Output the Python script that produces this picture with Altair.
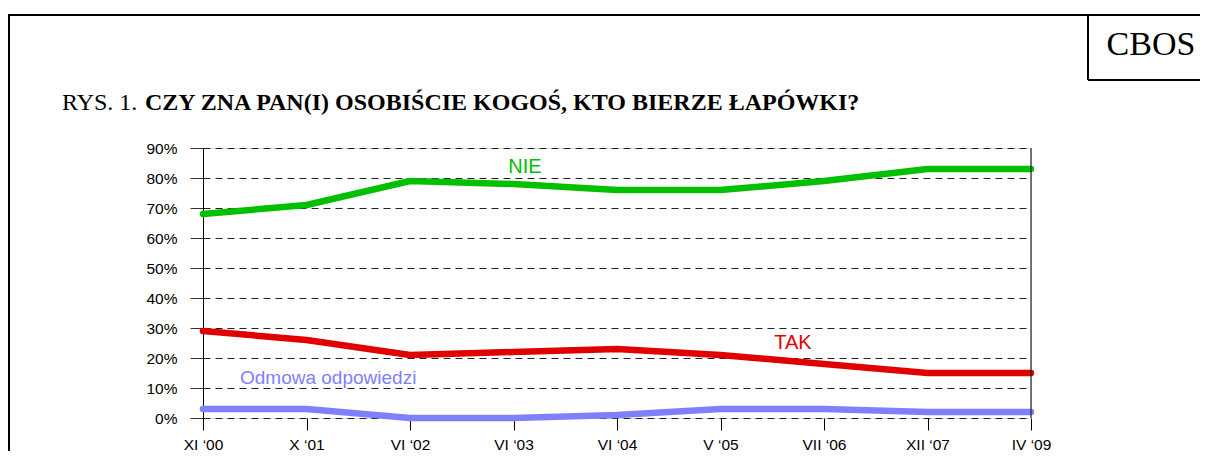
import altair as alt
import pandas as pd

# ---- data ----
okresy = ["XI ‘00", "X ‘01", "VI ‘02", "VI ‘03", "VI ‘04", "V ‘05", "VII ‘06", "XII ‘07", "IV ‘09"]
nie = [68, 71, 79, 78, 76, 76, 79, 83, 83]
tak = [29, 26, 21, 22, 23, 21, 18, 15, 15]
odmowa = [3, 3, 0, 0, 1, 3, 3, 2, 2]

serie = ["NIE", "TAK", "Odmowa odpowiedzi"]
kolory = ["#00c000", "#e00000", "#8080ff"]
y_ticks = [0, 10, 20, 30, 40, 50, 60, 70, 80, 90]

title_normal = "RYS. 1. "
title_bold = "CZY ZNA PAN(I) OSOBIŚCIE KOGOŚ, KTO BIERZE ŁAPÓWKI?"
brand = "CBOS"

W, H = 828, 270
PAD = {"left": 195, "top": 140, "right": 170, "bottom": 33}

rows = []
for name, vals in zip(serie, [nie, tak, odmowa]):
    for o, v in zip(okresy, vals):
        rows.append({"okres": o, "wartosc": v, "seria": name})
df = pd.DataFrame(rows)

x_enc = alt.X(
    "okres:O",
    sort=okresy,
    scale=alt.Scale(type="point", padding=0),
    axis=alt.Axis(
        title=None, labelAngle=0, domain=False, grid=False,
        ticks=True, tickSize=12, tickColor="#000", tickWidth=1,
        labelPadding=7, labelFont="Liberation Sans", labelFontSize=15.5,
        labelColor="#000",
    ),
)
y_enc = alt.Y(
    "wartosc:Q",
    scale=alt.Scale(domain=[0, 90], nice=False, zero=True),
    axis=alt.Axis(
        title=None, values=y_ticks, labelExpr="datum.value + '%'",
        domain=True, domainColor="#000", domainWidth=1,
        grid=True, gridDash=[7, 5], gridColor="#222", gridWidth=1,
        ticks=True, tickSize=13, tickColor="#333", tickWidth=1,
        labelPadding=13, labelFont="Liberation Sans", labelFontSize=15.5,
        labelColor="#000",
    ),
)

lines = alt.Chart(df).mark_line(
    strokeWidth=6.5, strokeCap="round", strokeJoin="round"
).encode(
    x=x_enc,
    y=y_enc,
    color=alt.Color("seria:N", scale=alt.Scale(domain=serie, range=kolory), legend=None),
    detail="seria:N",
)

# frame segments in pixel coordinates relative to the plot origin
frame = pd.DataFrame([
    {"x": W, "x2": W, "y": 0, "y2": H, "w": 1.2, "c": "#222"},       # right border
    {"x": -195, "x2": 997, "y": -133, "y2": -133, "w": 2, "c": "#000"},  # page top
    {"x": -194, "x2": -194, "y": -133, "y2": 320, "w": 2, "c": "#000"},   # page left
    {"x": 885, "x2": 885, "y": -133, "y2": -68, "w": 2, "c": "#000"},     # CBOS box
    {"x": 885, "x2": 997, "y": -68, "y2": -68, "w": 2, "c": "#000"},
])
frame_layer = alt.Chart(frame).mark_rule().encode(
    x=alt.X("x:Q", scale=None),
    x2="x2:Q",
    y=alt.Y("y:Q", scale=None),
    y2="y2:Q",
    strokeWidth=alt.StrokeWidth("w:Q", scale=None),
    color=alt.Color("c:N", scale=None),
)

one = alt.Data(values=[{}])

def label(text, x, y, size, color, font="Liberation Sans", weight="normal", align="left"):
    return alt.Chart(one).mark_text(
        text=text, font=font, fontSize=size, fontWeight=weight, color=color,
        align=align, baseline="alphabetic",
    ).encode(x=alt.value(x), y=alt.value(y))

texts = [
    label(title_normal, -141, -38, 24, "#000", font="Liberation Serif"),
    label(title_bold, -58, -38, 24, "#000", font="Liberation Serif", weight="bold"),
    label(brand, 948, -93, 34, "#000", font="Liberation Serif", align="center"),
    label("NIE", 322, 25, 20, kolory[0], align="center"),
    label("TAK", 590, 201, 20, kolory[1], align="center"),
    label("Odmowa odpowiedzi", 37, 236, 19, kolory[2]),
]

chart = alt.layer(lines, frame_layer, *texts).properties(
    width=W, height=H,
    autosize=alt.AutoSizeParams(type="none"),
    padding=PAD,
).configure_view(stroke=None).configure(background="#ffffff")

chart.save("out.html", embed_options={"renderer": "svg", "actions": False})
